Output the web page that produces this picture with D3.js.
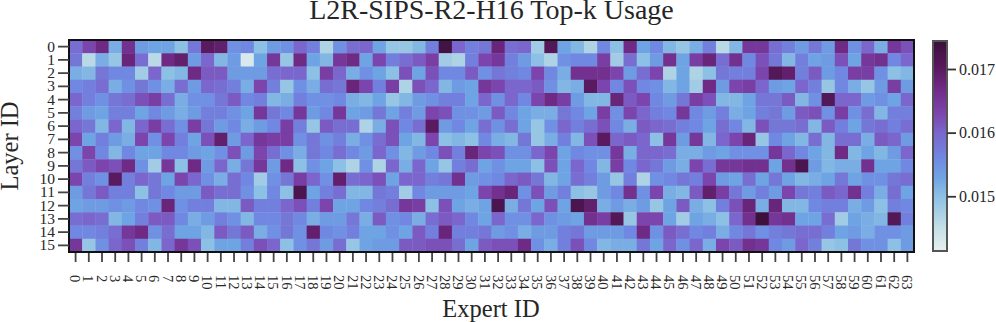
<!DOCTYPE html>
<html><head><meta charset="utf-8">
<script src="https://cdn.jsdelivr.net/npm/d3@7"></script>
<style>html,body{margin:0;padding:0;background:#fff}svg{display:block}text{font-family:"Liberation Serif",serif;fill:#262626}</style>
</head><body><svg id="c" width="996" height="322"></svg>
<script>
// usage values in units of 1e-4
const layer0=[159,163,167,152,166,154,153,153,150,158,170,169,155,156,150,154,155,160,157,147,155,159,160,153,149,149,151,157,173,160,157,158,168,159,160,148,171,153,151,147,156,150,167,153,156,151,149,152,157,146,151,165,165,159,157,154,158,154,167,155,160,152,165,162];
const layer1=[158,146,152,149,168,159,146,167,169,154,160,151,154,143,153,165,149,167,153,151,165,167,153,163,157,159,161,164,148,147,157,163,165,157,154,150,147,155,156,156,164,148,159,150,154,166,153,164,168,159,166,156,162,158,151,157,153,154,162,153,165,166,156,160];
const layer2=[152,151,158,156,156,148,160,150,151,167,161,161,154,154,154,159,160,160,150,164,160,152,155,153,150,162,153,162,156,156,161,155,158,157,156,163,156,152,166,166,166,163,154,159,163,147,153,147,150,158,157,157,163,171,169,157,161,154,156,164,164,155,150,151];
const layer3=[156,157,159,152,155,158,155,152,159,154,160,159,157,152,163,157,149,155,152,159,158,168,163,157,164,147,162,160,151,154,153,165,163,160,160,161,155,151,152,170,163,156,162,156,155,151,153,148,167,154,163,164,160,154,153,160,157,149,156,152,149,154,164,154];
const layer4=[160,157,155,158,159,162,164,159,152,155,155,158,161,156,157,151,152,157,155,155,156,152,151,153,149,151,154,155,157,157,153,160,155,160,156,163,167,164,154,151,151,168,161,163,156,154,158,164,162,151,151,153,158,158,161,151,155,171,160,160,154,155,153,160];
const layer5=[157,154,153,157,157,153,156,154,152,154,157,157,155,153,165,158,156,165,154,156,165,153,154,158,153,157,154,163,162,155,155,154,161,156,153,152,152,158,156,153,164,155,163,160,157,156,165,156,154,157,152,153,157,158,154,161,162,155,164,155,159,151,157,157];
const layer6=[160,158,151,160,151,160,164,159,155,164,158,154,156,152,154,156,164,157,149,161,159,159,147,152,162,156,159,170,154,156,153,159,155,159,153,149,155,160,157,159,162,156,152,161,160,159,157,156,153,159,156,151,162,158,158,159,151,161,157,153,158,159,157,159];
const layer7=[163,153,157,154,152,163,155,163,157,153,162,169,154,160,165,164,164,155,158,155,157,152,155,159,162,153,151,163,150,151,150,156,152,151,158,149,152,157,151,162,170,160,161,160,150,165,154,165,151,160,163,168,149,156,153,151,159,151,159,159,152,161,160,154];
const layer8=[155,163,156,151,156,153,153,156,156,154,153,155,162,154,163,159,155,152,158,156,159,156,154,160,155,151,154,156,162,157,168,163,162,155,155,160,163,153,156,155,155,165,152,160,160,159,152,152,154,153,155,155,155,165,160,156,153,151,167,151,153,151,154,160];
const layer9=[158,161,163,162,167,155,148,165,150,167,154,160,152,158,165,154,167,150,155,153,150,147,155,147,160,152,160,153,149,157,159,153,155,153,153,150,162,153,160,156,151,164,156,160,158,154,152,163,159,165,165,166,166,153,166,172,154,151,152,152,166,153,153,156];
const layer10=[163,157,155,170,157,160,158,153,163,160,155,152,159,156,148,155,158,164,160,155,169,159,160,162,153,160,160,157,158,166,154,155,156,160,161,158,151,153,159,157,154,149,157,147,155,156,158,157,163,154,153,159,153,158,153,151,152,153,158,153,155,155,158,159];
const layer11=[154,158,161,157,157,150,158,156,154,154,161,159,159,155,150,156,150,172,153,157,159,151,151,158,157,148,156,154,154,154,153,163,166,168,155,162,154,157,150,149,154,156,166,155,163,152,151,161,169,164,158,154,157,154,163,158,157,161,160,166,157,152,159,153];
const layer12=[153,154,154,155,154,156,155,168,155,157,157,151,151,161,157,157,160,162,157,163,153,153,156,157,159,165,164,150,162,153,152,153,172,152,158,153,162,153,172,169,152,154,152,154,149,153,161,152,150,157,162,168,152,168,151,151,156,157,157,152,154,150,157,156];
const layer13=[159,160,159,151,153,157,161,161,156,152,154,157,155,151,156,156,158,156,152,154,154,158,152,161,155,156,152,159,161,160,156,153,160,155,155,160,155,154,153,166,164,171,149,163,163,153,148,153,152,150,160,166,174,165,166,153,153,159,148,153,152,151,171,157];
const layer14=[156,156,157,159,165,167,155,159,153,153,151,161,158,161,152,155,158,155,169,156,155,157,153,153,155,153,161,157,168,157,157,158,154,155,152,154,154,157,158,154,154,154,156,167,155,161,159,156,157,152,156,158,155,157,158,159,159,157,153,154,152,155,155,154];
const layer15=[165,149,155,160,162,157,151,160,165,162,150,153,153,157,162,160,150,155,158,154,159,149,153,154,154,161,161,162,162,159,153,161,162,162,167,155,152,157,162,156,151,152,152,158,153,160,155,160,152,163,161,166,165,156,154,160,157,149,150,158,155,155,150,154];
const rows=[layer0,layer1,layer2,layer3,layer4,layer5,layer6,layer7,layer8,layer9,layer10,layer11,layer12,layer13,layer14,layer15];
const layerIds=d3.range(16), expertIds=d3.range(64);
const cbarTicks=[0.015,0.016,0.017];
const vmin=0.01414, vmax=0.01744;
const stopVals=[0.01414,0.0145,0.0150,0.0153,0.0156,0.0160,0.0163,0.0167,0.0170,0.01744];
const stopCols=["#e8f0f0","#c4dfe6","#8cc0e4","#6fa4e4","#7088e2","#7a66cc","#7c45ae","#6f2a85","#5a1a60","#3a0f3a"];
const color=d3.scaleLinear().domain(stopVals).range(stopCols).interpolate(d3.interpolateRgb);

const svg=d3.select("#c");
const m={l:69,t:40,r:914,b:252};
const x=d3.scaleBand().domain(expertIds).range([m.l,m.r]);
const y=d3.scaleBand().domain(layerIds).range([m.t,m.b]);
const g=svg.append("g");
rows.forEach((r,i)=>{g.selectAll(null).data(r).join("rect")
  .attr("x",(d,j)=>x(j)).attr("y",y(i)).attr("width",x.bandwidth()+.4).attr("height",y.bandwidth()+.4)
  .attr("fill",d=>color(d*1e-4));});
svg.append("rect").attr("x",m.l).attr("y",m.t).attr("width",m.r-m.l).attr("height",m.b-m.t).attr("fill","none").attr("stroke","#111").attr("stroke-width",2);

const xa=svg.append("g").attr("transform",`translate(0,${m.b})`).call(d3.axisBottom(x).tickSize(10));
xa.select(".domain").remove();
xa.selectAll("line").attr("y1",1).attr("stroke","#444").attr("stroke-width",1.8);
xa.selectAll("text").attr("font-size",14.5).attr("x",0).attr("y",23).attr("dy",0).attr("transform","translate(-2,0) rotate(90 0 23)").attr("dominant-baseline","middle").attr("text-anchor","start");
const ya=svg.append("g").attr("transform",`translate(${m.l},0)`).call(d3.axisLeft(y).tickSize(11).tickPadding(3));
ya.select(".domain").remove();
ya.selectAll("line").attr("stroke","#444").attr("stroke-width",1.8);
ya.selectAll("text").attr("font-size",15.5);

svg.append("text").attr("x",491.5).attr("y",19).attr("text-anchor","middle").attr("font-size",28).text("L2R-SIPS-R2-H16 Top-k Usage");
svg.append("text").attr("x",491).attr("y",316.5).attr("text-anchor","middle").attr("font-size",24.5).text("Expert ID");
svg.append("text").attr("transform","translate(18,146) rotate(-90)").attr("text-anchor","middle").attr("font-size",24.5).text("Layer ID");

// colour bar
const cb={x:933,w:14,t:41,b:251};
const cy=d3.scaleLinear().domain([vmin,vmax]).range([cb.b,cb.t]);
const defs=svg.append("defs");
const lg=defs.append("linearGradient").attr("id","cbg").attr("x1",0).attr("x2",0).attr("y1",1).attr("y2",0);
stopVals.forEach((v,i)=>lg.append("stop").attr("offset",(v-vmin)/(vmax-vmin)).attr("stop-color",stopCols[i]));
svg.append("rect").attr("x",cb.x).attr("y",cb.t).attr("width",cb.w).attr("height",cb.b-cb.t).attr("fill","url(#cbg)").attr("stroke","#555").attr("stroke-width",2);
const ca=svg.append("g").attr("transform",`translate(${cb.x+cb.w},0)`).call(d3.axisRight(cy).tickValues(cbarTicks).tickFormat(d3.format(".3f")).tickSize(9).tickPadding(3));
ca.select(".domain").remove();
ca.selectAll("line").attr("stroke","#333").attr("stroke-width",1.8);
ca.selectAll("text").attr("font-size",16);
</script></body></html>
